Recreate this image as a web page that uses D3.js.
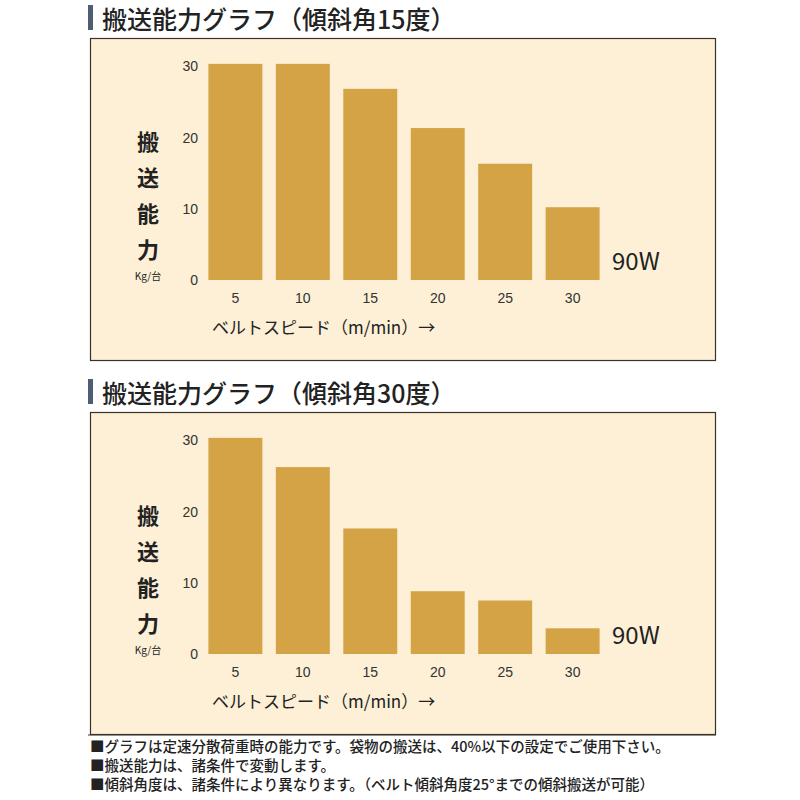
<!DOCTYPE html>
<html><head><meta charset="utf-8">
<script src="https://cdn.jsdelivr.net/npm/d3@7"></script>
<style>body{margin:0;background:#fff}svg{font-family:"Noto Sans CJK JP","Noto Sans",sans-serif}</style>
</head><body><div class="chart"></div>
<script>
const speeds = ["5", "10", "15", "20", "25", "30"];
const yTicks = [0, 10, 20, 30];
const capacity15 = [30.3, 30.3, 26.8, 21.3, 16.3, 10.2];
const capacity30 = [30.3, 26.2, 17.6, 8.8, 7.5, 3.6];
const titles = ["搬送能力グラフ（傾斜角15度）", "搬送能力グラフ（傾斜角30度）"];
const notes = [
  "■グラフは定速分散荷重時の能力です。袋物の搬送は、40%以下の設定でご使用下さい。",
  "■搬送能力は、諸条件で変動します。",
  "■傾斜角度は、諸条件により異なります。（ベルト傾斜角度25°までの傾斜搬送が可能）"
];

const svg = d3.select('.chart').append('svg').attr('width', 800).attr('height', 800);

const drawPanel = (top, title, values) => {
    const g = svg.append('g').attr('transform', 'translate(0,' + top + ')');
    g.append('rect').attr('x', 88).attr('y', 5).attr('width', 5).attr('height', 25).style('fill', '#4d5d73');
    g.append('text').attr('x', 102).attr('y', 29).style('font-size', '25px').style('font-weight', 500)
        .style('fill', '#222').text(title);
    g.append('rect').attr('x', 90.5).attr('y', 38.5).attr('width', 625).attr('height', 322)
        .style('fill', '#fdf0d6').style('stroke', '#3a3228').style('stroke-width', 1.2);

    const x = d3.scaleBand().domain(speeds).range([203, 605]).paddingInner(0.2).paddingOuter(0.08);
    const y = d3.scaleLinear().domain([0, 30]).range([280, 66]);

    g.selectAll('.bar').data(values).enter().append('rect')
        .attr('x', (d, i) => x(speeds[i]))
        .attr('y', d => y(d))
        .attr('width', x.bandwidth())
        .attr('height', d => y(0) - y(d))
        .style('fill', '#d4a345');

    const ya = g.append('g').attr('transform', 'translate(198,0)')
        .call(d3.axisLeft(y).tickValues(yTicks).tickSize(0).tickPadding(0));
    ya.select('.domain').remove();
    ya.selectAll('text').style('font-size', '14px').style('fill', '#333').attr('dy', '0.35em');

    const xa = g.append('g').attr('transform', 'translate(0,290)')
        .call(d3.axisBottom(x).tickSize(0).tickPadding(0));
    xa.select('.domain').remove();
    xa.selectAll('text').style('font-size', '14px').style('fill', '#333').attr('dy', '0.9em');

    ['搬', '送', '能', '力'].forEach((c, i) => {
        g.append('text').attr('x', 148).attr('y', 150 + i * 36).attr('text-anchor', 'middle')
            .style('font-size', '22px').style('font-weight', 600).style('fill', '#222').text(c);
    });
    g.append('text').attr('x', 148).attr('y', 280).attr('text-anchor', 'middle')
        .style('font-size', '10px').style('fill', '#222').text('Kg/台');
    g.append('text').attr('x', 212).attr('y', 334).style('font-size', '17px').style('fill', '#222')
        .text('ベルトスピード（m/min）→');
    g.append('text').attr('x', 612).attr('y', 270).style('font-size', '24px').style('fill', '#222').text('90W');
};

drawPanel(0, titles[0], capacity15);
drawPanel(374, titles[1], capacity30);

svg.append('line').attr('x1', 88).attr('x2', 716).attr('y1', 735).attr('y2', 735)
    .style('stroke', '#3a3228').style('stroke-width', 1.2);
notes.forEach((t, i) => {
    svg.append('text').attr('x', 90).attr('y', 752 + i * 19).style('font-size', '14.5px')
        .style('font-weight', 500).style('fill', '#222').text(t);
});
</script></body></html>
